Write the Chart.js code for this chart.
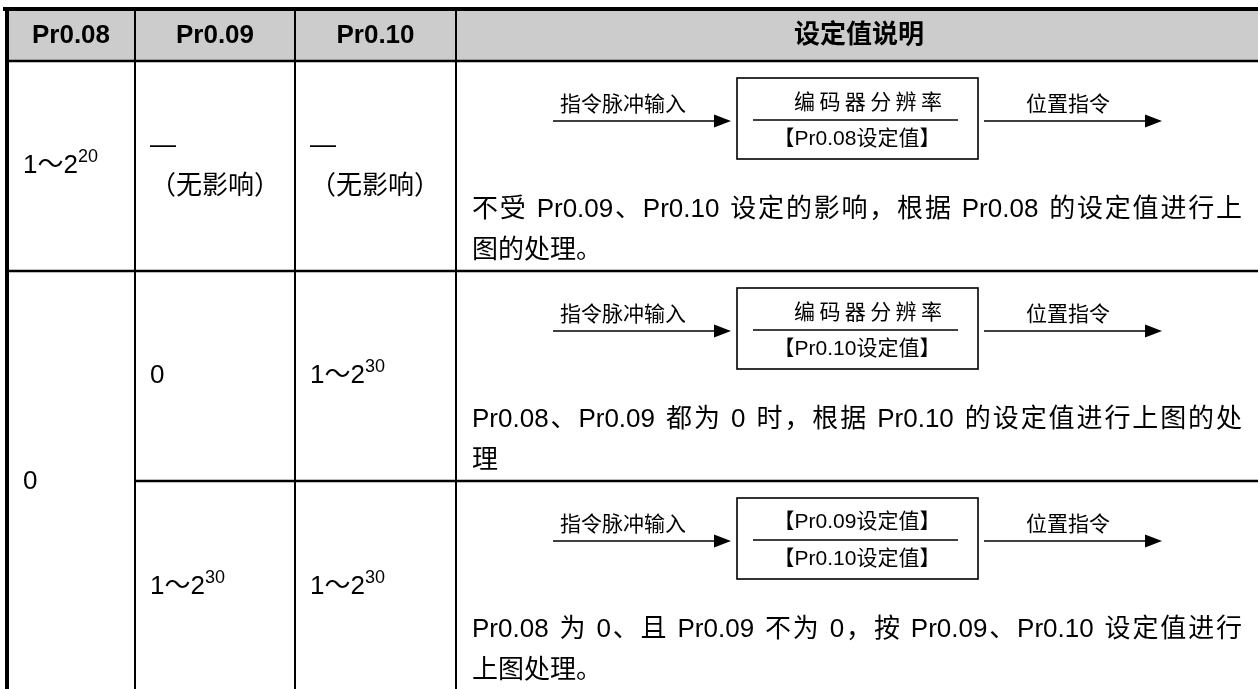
<!DOCTYPE html>
<html>
<head>
<meta charset="utf-8">
<script src="https://cdn.jsdelivr.net/npm/chart.js@4.4.0/dist/chart.umd.min.js"></script>
<style>
  html, body { margin: 0; padding: 0; background: #fff; }
  #paramTable { display: block; }
</style>
</head>
<body>
<canvas id="paramTable" width="1258" height="689"></canvas>
<script>
// 表格内容
const headers = ["Pr0.08", "Pr0.09", "Pr0.10", "设定值说明"];
const pr08Values = ["1～2^20", "0"];
const pr08RowSpans = [1, 2];
const pr09Values = [["—", "（无影响）"], ["0"], ["1～2^30"]];
const pr10Values = [["—", "（无影响）"], ["1～2^30"], ["1～2^30"]];
const inputLabel = "指令脉冲输入";
const outputLabel = "位置指令";
const ratioTop = ["编码器分辨率", "编码器分辨率", "【Pr0.09设定值】"];
const ratioBottom = ["【Pr0.08设定值】", "【Pr0.10设定值】", "【Pr0.10设定值】"];
const notes = [
  ["不受 Pr0.09、Pr0.10 设定的影响，根据 Pr0.08 的设定值进行上", "图的处理。"],
  ["Pr0.08、Pr0.09 都为 0 时，根据 Pr0.10 的设定值进行上图的处", "理"],
  ["Pr0.08 为 0、且 Pr0.09 不为 0，按 Pr0.09、Pr0.10 设定值进行", "上图处理。"]
];

// 版面（坐标轴单位 = 像素）
const colEdges = [7, 135, 295, 456, 1262];
const rowEdges = [9, 61, 271, 481, 693];
const FONT = '"Liberation Sans", "Noto Sans CJK SC", sans-serif';

// 表格线 → 折线数据集
function rule(x1, y1, x2, y2, w) {
  return {
    data: [{ x: x1, y: y1 }, { x: x2, y: y2 }],
    showLine: true, borderColor: "#000", borderWidth: w,
    pointRadius: 0, clip: false
  };
}
const rules = [
  rule(3, rowEdges[0], 1262, rowEdges[0], 4),
  rule(colEdges[0], 7, colEdges[0], 700, 4),
  rule(colEdges[0], rowEdges[1], 1262, rowEdges[1], 2.5),
  rule(colEdges[0], rowEdges[2], 1262, rowEdges[2], 2.5),
  rule(colEdges[1], rowEdges[3], 1262, rowEdges[3], 2.5),
  rule(colEdges[1], rowEdges[0], colEdges[1], 700, 2),
  rule(colEdges[2], rowEdges[0], colEdges[2], 700, 2),
  rule(colEdges[3], rowEdges[0], colEdges[3], 700, 2)
];

function drawRich(ctx, text, x, y, size) {
  const [base, sup] = text.split("^");
  ctx.font = size + "px " + FONT;
  ctx.fillText(base, x, y);
  if (sup) {
    const w = ctx.measureText(base).width;
    ctx.font = Math.round(size * 0.7) + "px " + FONT;
    ctx.fillText(sup, x + w, y - size * 0.33);
  }
}

// 两端对齐：拉丁单词不拆开，间距分给汉字与空格之间
function drawJustified(ctx, text, x, y, width) {
  const parts = text.match(/[A-Za-z0-9.]+|./gu);
  const widths = parts.map(p => ctx.measureText(p).width);
  const total = widths.reduce((a, b) => a + b, 0);
  const gap = (width - total) / (parts.length - 1);
  let cx = x;
  parts.forEach((p, i) => { ctx.fillText(p, cx, y); cx += widths[i] + gap; });
}

function arrow(ctx, x1, x2, y, X, Y) {
  ctx.lineWidth = 1.6;
  ctx.beginPath();
  ctx.moveTo(X(x1), Y(y));
  ctx.lineTo(X(x2) - 14, Y(y));
  ctx.stroke();
  ctx.beginPath();
  ctx.moveTo(X(x2), Y(y));
  ctx.lineTo(X(x2) - 17, Y(y) - 6.5);
  ctx.lineTo(X(x2) - 17, Y(y) + 6.5);
  ctx.closePath();
  ctx.fill();
}

const tablePlugin = {
  id: "paramTable",
  beforeDatasetsDraw(chart) {
    const { ctx, scales: { x, y } } = chart;
    const X = v => x.getPixelForValue(v), Y = v => y.getPixelForValue(v);
    ctx.save();
    ctx.fillStyle = "#cccccc";
    ctx.fillRect(X(colEdges[0]), Y(rowEdges[0]), X(1262) - X(colEdges[0]), Y(rowEdges[1]) - Y(rowEdges[0]));
    ctx.restore();
  },
  afterDatasetsDraw(chart) {
    const { ctx, scales: { x, y } } = chart;
    const X = v => x.getPixelForValue(v), Y = v => y.getPixelForValue(v);
    ctx.save();
    ctx.fillStyle = "#000";
    ctx.strokeStyle = "#000";
    ctx.textBaseline = "middle";

    // 表头
    ctx.font = "bold 26px " + FONT;
    ctx.textAlign = "center";
    const hy = (rowEdges[0] + rowEdges[1]) / 2 + 1;
    headers.forEach((h, i) => {
      ctx.fillText(h, X((colEdges[i] + colEdges[i + 1]) / 2), Y(hy));
    });

    ctx.textAlign = "left";
    // Pr0.08 列（含合并单元格）
    let r = 1;
    pr08Values.forEach((v, i) => {
      const top = rowEdges[r], bottom = rowEdges[r + pr08RowSpans[i]];
      drawRich(ctx, v, X(colEdges[0] + 16), Y((top + bottom) / 2), 26);
      r += pr08RowSpans[i];
    });
    // Pr0.09 / Pr0.10 列
    [pr09Values, pr10Values].forEach((col, c) => {
      col.forEach((lines, i) => {
        const mid = (rowEdges[i + 1] + rowEdges[i + 2]) / 2;
        const step = 41;
        lines.forEach((t, k) => {
          const ly = mid + (k - (lines.length - 1) / 2) * step;
          drawRich(ctx, t, X(colEdges[c + 1] + 15), Y(ly), 26);
        });
      });
    });

    // 设定值说明列：框图 + 文字
    notes.forEach((lines, i) => {
      const top = rowEdges[i + 1];
      const boxTop = top + 17, boxBottom = boxTop + 81;
      const ay = boxTop + 43;
      ctx.font = "21px " + FONT;
      ctx.textAlign = "center";
      ctx.fillText(inputLabel, X(623), Y(boxTop + 27));
      ctx.fillText(outputLabel, X(1068), Y(boxTop + 27));
      arrow(ctx, 553, 731, ay, X, Y);
      arrow(ctx, 984, 1162, ay, X, Y);
      ctx.lineWidth = 1.6;
      ctx.strokeRect(X(737), Y(boxTop), X(978) - X(737), Y(boxBottom) - Y(boxTop));
      ctx.beginPath();
      ctx.moveTo(X(753), Y(boxTop + 42));
      ctx.lineTo(X(958), Y(boxTop + 42));
      ctx.stroke();
      const tw = ctx.measureText(ratioTop[i]).width;
      if (tw < 140) {
        ctx.textAlign = "left";
        drawJustified(ctx, ratioTop[i], X(794), Y(boxTop + 25), X(942) - X(794));
        ctx.textAlign = "center";
      } else {
        ctx.fillText(ratioTop[i], X(857), Y(boxTop + 24));
      }
      ctx.fillText(ratioBottom[i], X(857), Y(boxTop + 61));

      ctx.font = "26px " + FONT;
      ctx.textAlign = "left";
      drawJustified(ctx, lines[0], X(colEdges[3] + 16), Y(top + 149), X(1242) - X(colEdges[3] + 16));
      ctx.fillText(lines[1], X(colEdges[3] + 16), Y(top + 190));
    });
    ctx.restore();
  }
};

new Chart(document.getElementById("paramTable"), {
  type: "scatter",
  data: { datasets: rules },
  options: {
    responsive: false,
    animation: false,
    devicePixelRatio: 1,
    layout: { padding: 0 },
    plugins: { legend: { display: false }, tooltip: { enabled: false } },
    scales: {
      x: { type: "linear", min: 0, max: 1258, display: false },
      y: { type: "linear", min: 0, max: 689, reverse: true, display: false }
    }
  },
  plugins: [tablePlugin]
});
</script>
</body>
</html>
